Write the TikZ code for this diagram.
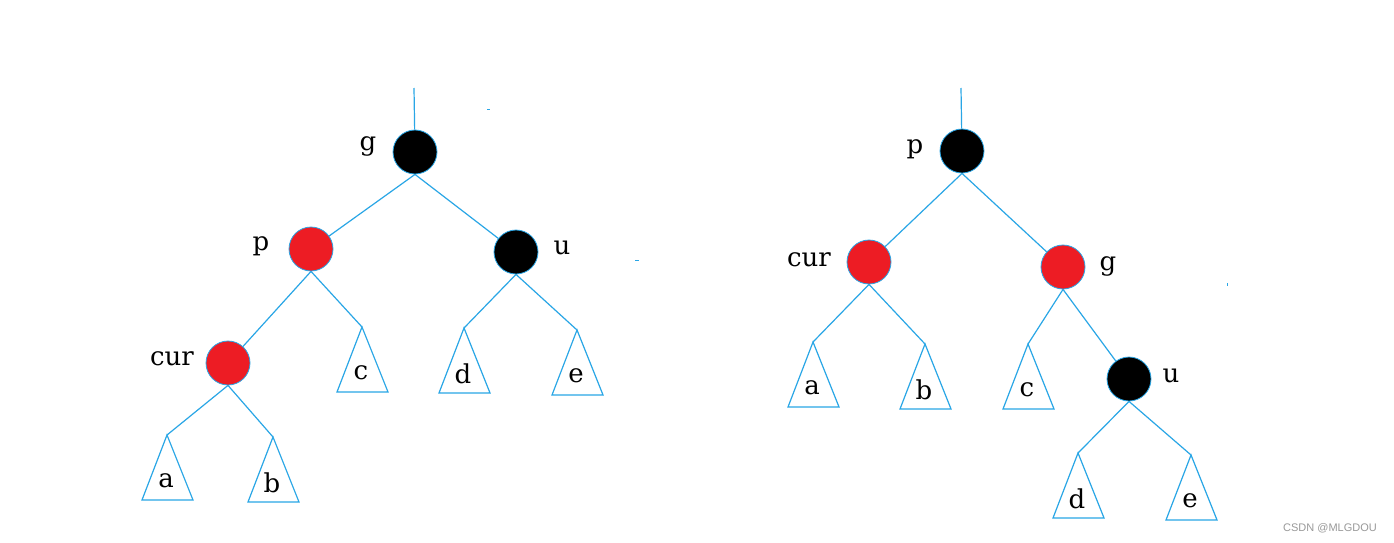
\documentclass[tikz,border=0pt]{standalone}
\usepackage{fontspec}
\setmainfont{DejaVu Serif}
\newfontfamily\wmfont{Liberation Sans}
\definecolor{lblue}{HTML}{29A6E6}
\definecolor{nred}{HTML}{ED1C24}
\begin{document}
\begin{tikzpicture}[x=1pt,y=-1pt,
  edge/.style={draw=lblue,line width=1.2pt},
  rnode/.style={circle,fill=nred,draw=lblue,line width=0.8pt,minimum size=44pt,inner sep=0pt},
  bnode/.style={circle,fill=black,draw=lblue,line width=0.8pt,minimum size=44pt,inner sep=0pt},
  lab/.style={font=\fontsize{26}{26}\selectfont,inner sep=0pt,anchor=center},
  tlab/.style={font=\fontsize{26}{26}\selectfont,inner sep=0pt,anchor=center}]
\useasboundingbox (0,0) rectangle (1394,543);
\fill[white] (0,0) rectangle (1394,543);
% ---- left tree ----
\coordinate (Ltop) at (414,88);
\node[bnode] (Lg) at (415,152) {};
\node[rnode] (Lp) at (311,249) {};
\node[bnode] (Lu) at (516,252) {};
\node[rnode] (Lcur) at (228,363) {};
\node[lab] (Lgl) at (368,146) {g};
\node[lab] (Lpl) at (261,246) {p};
\node[lab] (Lul) at (562,248) {u};
\node[lab] (Lcurl) at (172,359) {cur};
\coordinate (La) at (167,435);
\coordinate (Lb) at (273,437);
\coordinate (Lc) at (362,327);
\coordinate (Ld) at (464,328);
\coordinate (Le) at (577,330);
\draw[edge] (Ltop) -- (Lg);
\draw[edge] (Lg.south) -- (Lp);
\draw[edge] (Lg.south) -- (Lu);
\draw[edge] (Lp.south) -- (Lcur);
\draw[edge] (Lp.south) -- (Lc);
\draw[edge] (Lu.south) -- (Ld);
\draw[edge] (Lu.south) -- (Le);
\draw[edge] (Lcur.south) -- (La);
\draw[edge] (Lcur.south) -- (Lb);
% ---- right tree ----
\coordinate (Rtop) at (961,88);
\node[bnode] (Rp) at (962,151) {};
\node[rnode] (Rcur) at (869,262) {};
\node[rnode] (Rg) at (1063,267) {};
\node[bnode] (Ru) at (1129,379) {};
\node[lab] (Rpl) at (915,149) {p};
\node[lab] (Rcurl) at (809,260) {cur};
\node[lab] (Rgl) at (1108,266) {g};
\node[lab] (Rul) at (1171,376) {u};
\coordinate (Ra) at (813,342);
\coordinate (Rb) at (925,344);
\coordinate (Rc) at (1028,344);
\coordinate (Rd) at (1078,453);
\coordinate (Re) at (1191,455);
\draw[edge] (Rtop) -- (Rp);
\draw[edge] (Rp.south) -- (Rcur);
\draw[edge] (Rp.south) -- (Rg);
\draw[edge] (Rcur.south) -- (Ra);
\draw[edge] (Rcur.south) -- (Rb);
\draw[edge] (Rg.south) -- (Rc);
\draw[edge] (Rg.south) -- (Ru);
\draw[edge] (Ru.south) -- (Rd);
\draw[edge] (Ru.south) -- (Re);
% ---- triangles ----
\foreach \n/\t in {La/a,Lb/b,Lc/c,Ld/d,Le/e,Ra/a,Rb/b,Rc/c,Rd/d,Re/e}{%
  \draw[edge,line join=miter] (\n) -- ++(-25,65) -- ++(51,0) -- cycle;
  \node[tlab] at ([shift={(-1,46)}]\n) {\t};}
% stray marks
\draw[lblue,line width=1pt] (487,109) -- (490,109);
\draw[lblue,line width=1pt] (635,260) -- (639,260);
\draw[lblue,line width=1pt] (1227,283) -- (1227,286);
% watermark
\node[font=\wmfont\fontsize{11}{11}\selectfont,text=gray!80,inner sep=0pt] (wm) at (1330,528) {CSDN @MLGDOU};
\end{tikzpicture}
\end{document}
